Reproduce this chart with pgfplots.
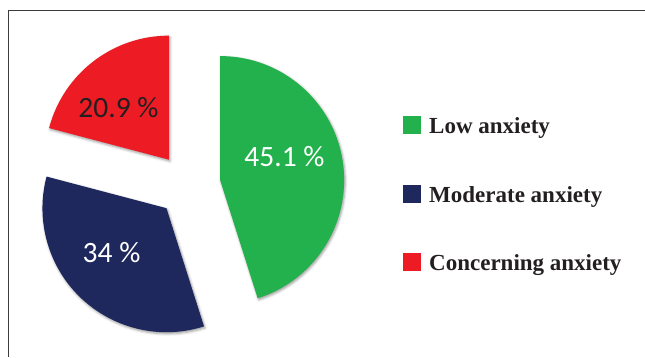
\documentclass[border=0pt]{standalone}
\usepackage{pgfplots}
\pgfplotsset{compat=1.18}
\usepackage{pgfplotstable}
\usepackage{fontspec}
\setmainfont{Liberation Serif}
\newfontfamily\carlito{Carlito}
\usetikzlibrary{shadows.blur}
\definecolor{lowgreen}{RGB}{34,177,76}
\definecolor{modnavy}{RGB}{31,40,92}
\definecolor{conred}{RGB}{237,28,36}
\definecolor{txt}{RGB}{35,31,32}
\definecolor{frame}{RGB}{60,60,60}

\pgfplotstableread{
value
45.1
34
20.9
}\piedata

\begin{document}
\begin{tikzpicture}
\useasboundingbox (0,0) rectangle (645pt,357pt);
% values
\pgfplotstablegetelem{0}{value}\of\piedata \edef\vLow{\pgfplotsretval}
\pgfplotstablegetelem{1}{value}\of\piedata \edef\vMod{\pgfplotsretval}
\pgfplotstablegetelem{2}{value}\of\piedata \edef\vCon{\pgfplotsretval}
% angles (clockwise from the top)
\pgfmathsetmacro{\aLowS}{90}
\pgfmathsetmacro{\aLowE}{\aLowS-3.6*\vLow}
\pgfmathsetmacro{\aModS}{\aLowE}
\pgfmathsetmacro{\aModE}{\aModS-3.6*\vMod}
\pgfmathsetmacro{\aConS}{\aModE}
\pgfmathsetmacro{\aConE}{\aConS-3.6*\vCon}
\pgfmathsetmacro{\mLow}{(\aLowS+\aLowE)/2}
\pgfmathsetmacro{\mMod}{(\aModS+\aModE)/2}
\pgfmathsetmacro{\mCon}{(\aConS+\aConE)/2}
\def\cx{188.5}\def\cy{172}\def\rr{124pt}\def\ex{32}
\pgfmathsetmacro{\xLow}{\cx+\ex*cos(\mLow)}\pgfmathsetmacro{\yLow}{\cy+\ex*sin(\mLow)}
\pgfmathsetmacro{\xMod}{\cx+\ex*cos(\mMod)}\pgfmathsetmacro{\yMod}{\cy+\ex*sin(\mMod)}
\pgfmathsetmacro{\xCon}{\cx+\ex*cos(\mCon)}\pgfmathsetmacro{\yCon}{\cy+\ex*sin(\mCon)}
\begin{axis}[at={(0,0)}, anchor=south west, width=645pt, height=357pt,
  scale only axis, xmin=0, xmax=645, ymin=0, ymax=357, hide axis, clip=false]
% frame (top and left edges)
\draw[frame, line width=1.1pt] (axis cs:645,346.5) -- (axis cs:8.5,346.5) -- (axis cs:8.5,0);
% slices
\tikzset{sh/.style={blur shadow={shadow xshift=1pt, shadow yshift=-1.5pt, shadow blur radius=2.5pt, shadow opacity=40}}}
\fill[lowgreen, sh] (axis cs:\xLow,\yLow) -- ++(\aLowS:\rr) arc[start angle=\aLowS, end angle=\aLowE, radius=\rr] -- cycle;
\fill[modnavy, sh] (axis cs:\xMod,\yMod) -- ++(\aModS:\rr) arc[start angle=\aModS, end angle=\aModE, radius=\rr] -- cycle;
\fill[conred, sh] (axis cs:\xCon,\yCon) -- ++(\aConS:\rr) arc[start angle=\aConS, end angle=\aConE, radius=\rr] -- cycle;
% slice labels
\node[anchor=base, inner sep=0pt, text=white, font=\carlito\fontsize{29.5}{35}\selectfont] at (axis cs:284.5,190.3) {45.1 \%};
\node[anchor=base, inner sep=0pt, text=txt, font=\carlito\fontsize{29.5}{35}\selectfont] at (axis cs:118.5,240) {20.9 \%};
\node[anchor=base, inner sep=0pt, text=white, font=\carlito\fontsize{29.5}{35}\selectfont] at (axis cs:111.5,95) {34 \%};
% legend
\fill[lowgreen] (axis cs:402.7,223.3) rectangle (axis cs:421,241);
\fill[modnavy] (axis cs:402.7,154.3) rectangle (axis cs:421,172);
\fill[conred] (axis cs:402.7,86.3) rectangle (axis cs:421,104.3);
\node[anchor=base west, inner sep=0pt, text=txt, font=\bfseries\fontsize{23}{27}\selectfont] at (axis cs:429,223.7) {Low anxiety};
\node[anchor=base west, inner sep=0pt, text=txt, font=\bfseries\fontsize{23}{27}\selectfont] at (axis cs:429,155) {Moderate anxiety};
\node[anchor=base west, inner sep=0pt, text=txt, font=\bfseries\fontsize{23}{27}\selectfont] at (axis cs:429,87) {Concerning anxiety};
\end{axis}
\end{tikzpicture}
\end{document}
